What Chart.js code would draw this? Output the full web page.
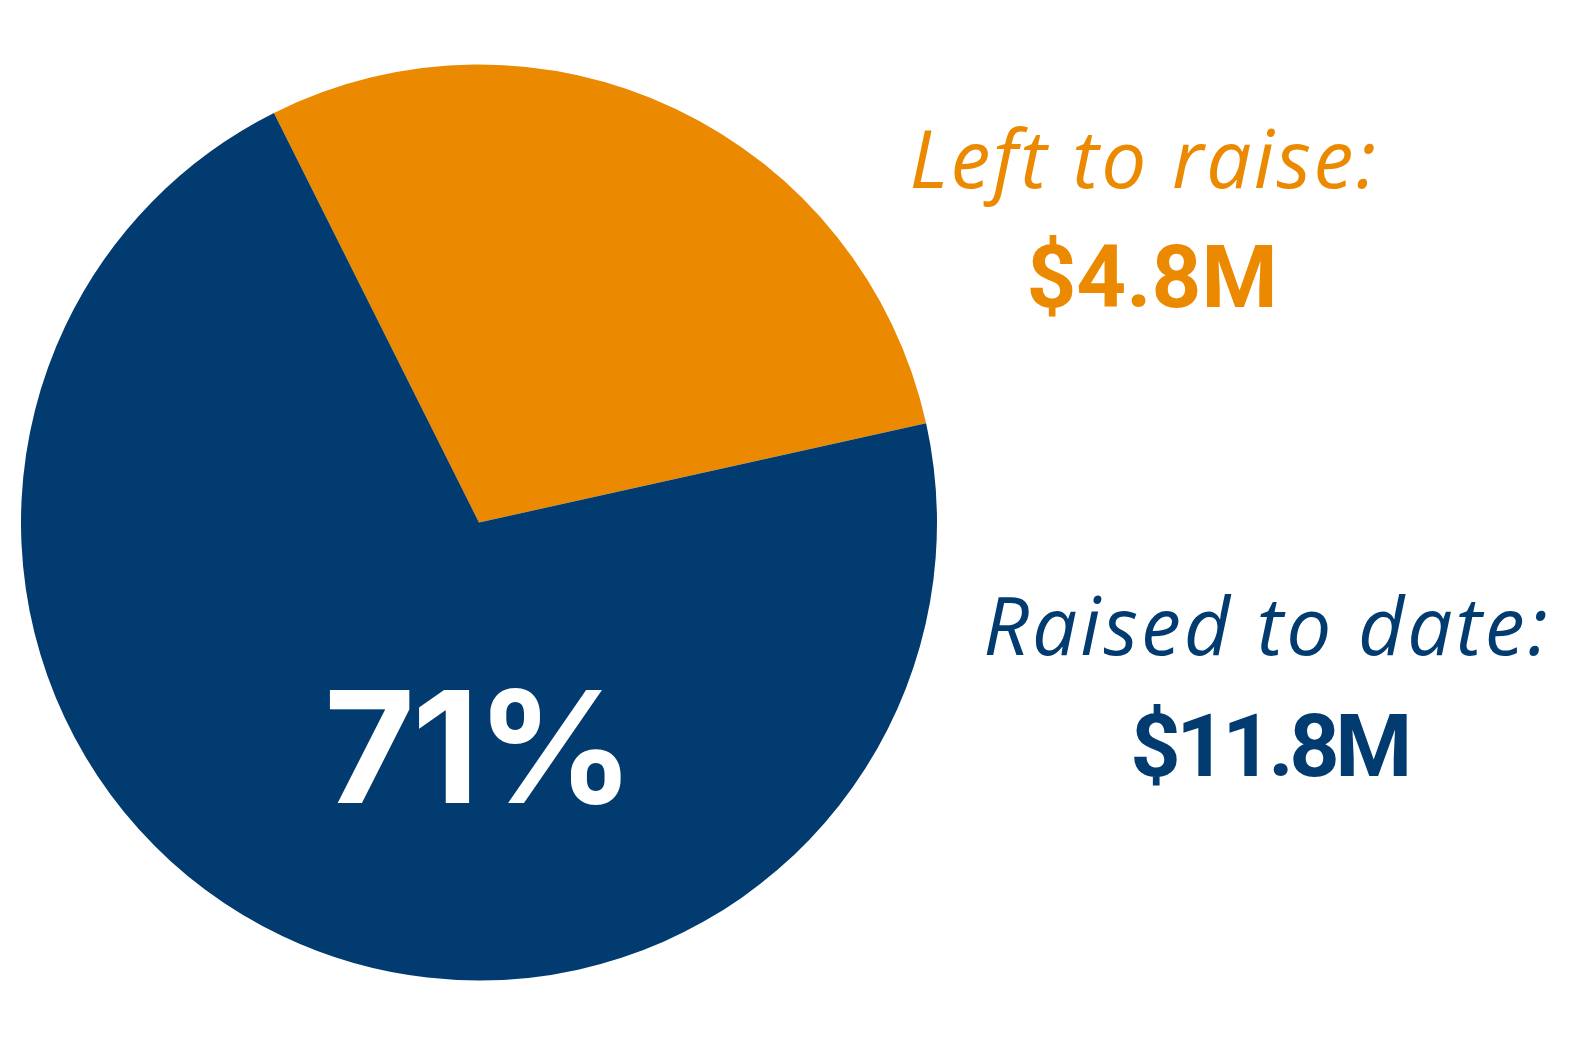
<!DOCTYPE html>
<html>
<head>
<meta charset="utf-8">
<script src="https://cdn.jsdelivr.net/npm/chart.js@4"></script>
<style>
  html, body { margin: 0; padding: 0; background: #ffffff; }
  #wrap { width: 1570px; height: 1047px; }
</style>
</head>
<body>
<div id="wrap"><canvas id="myChart" width="1570" height="1047"></canvas></div>
<script>
const labels = ['Left to raise:', 'Raised to date:'];
const amounts = [4.8, 11.8];
const amountLabels = ['$4.8M', '$11.8M'];
const colors = ['#EB8A00', '#023B70'];

const total = amounts.reduce((a, b) => a + b, 0);
const pctRaised = Math.round(amounts[1] / total * 100) + '%';

const textPlugin = {
    id: 'sideText',
    afterDraw(chart) {
        const ctx = chart.ctx;
        ctx.save();
        ctx.textBaseline = 'alphabetic';
        ctx.textAlign = 'center';

        ctx.fillStyle = colors[0];
        ctx.font = 'italic 400 80px "Open Sans"';
        ctx.letterSpacing = '2.5px';
        ctx.fillText(labels[0], 1144, 188);
        ctx.font = '700 87px Roboto';
        ctx.letterSpacing = '0px';
        ctx.fillText(amountLabels[0], 1152, 307);

        ctx.fillStyle = colors[1];
        ctx.font = 'italic 400 80px "Open Sans"';
        ctx.letterSpacing = '3px';
        ctx.fillText(labels[1], 1267, 655);
        ctx.font = '700 88px Roboto';
        ctx.letterSpacing = '-4.5px';
        ctx.fillText(amountLabels[1], 1269, 776);

        ctx.fillStyle = '#ffffff';
        ctx.font = '700 156px Inter';
        ctx.letterSpacing = '-3px';
        ctx.fillText(pctRaised, 478, 803);
        ctx.restore();
    }
};

new Chart(document.getElementById('myChart'), {
    type: 'pie',
    data: {
        labels: labels,
        datasets: [{
            data: amounts,
            backgroundColor: colors,
            borderWidth: 0
        }]
    },
    options: {
        responsive: false,
        animation: false,
        rotation: -26.6,
        layout: { padding: { left: 21, top: 64, right: 633, bottom: 66 } },
        plugins: {
            legend: { display: false },
            tooltip: { enabled: false }
        }
    },
    plugins: [textPlugin]
});
</script>
</body>
</html>
